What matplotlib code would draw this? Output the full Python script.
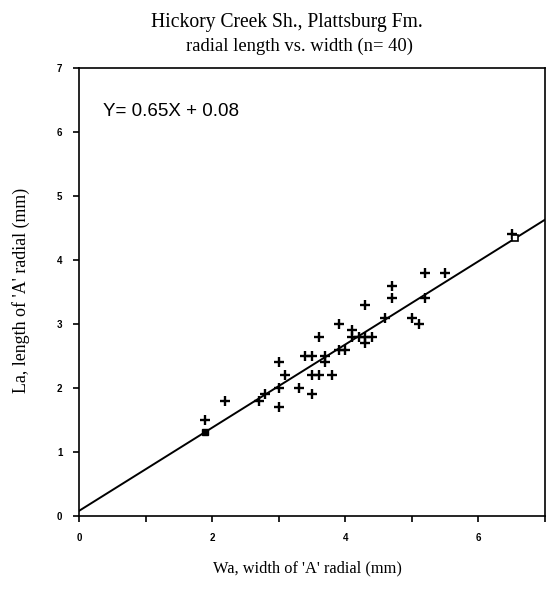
import matplotlib.pyplot as plt
import numpy as np

# radial width (Wa) and length (La), mm
width = [1.9, 2.2, 2.7, 2.8, 3.0, 3.0, 3.0, 3.1, 3.3, 3.4,
         3.5, 3.5, 3.5, 3.6, 3.6, 3.7, 3.7, 3.8, 3.9, 3.9,
         4.0, 4.1, 4.1, 4.2, 4.3, 4.3, 4.3, 4.4, 4.6, 4.7,
         4.7, 5.0, 5.1, 5.2, 5.2, 5.5, 6.5]
length = [1.5, 1.8, 1.8, 1.9, 2.4, 2.0, 1.7, 2.2, 2.0, 2.5,
          2.5, 2.2, 1.9, 2.2, 2.8, 2.5, 2.4, 2.2, 3.0, 2.6,
          2.6, 2.9, 2.8, 2.8, 3.3, 2.8, 2.7, 2.8, 3.1, 3.6,
          3.4, 3.1, 3.0, 3.8, 3.4, 3.8, 4.4]

# regression line
slope = 0.65
intercept = 0.08
end_x = [1.9, 6.55]

serif = ['Liberation Serif', 'DejaVu Serif']
sans = ['Liberation Sans', 'DejaVu Sans']

W, H = 548, 590
fig = plt.figure(figsize=(W / 100, H / 100), dpi=100)
ax = fig.add_axes([79 / W, 1 - 516 / H, 466 / W, 448 / H])

xs = np.array([0, 7])
ax.plot(xs, slope * xs + intercept, color='black', lw=1.4)
ax.plot(width, length, '+', color='black', ms=6.5, mew=1.7)

# end markers on the fitted line
ey = [slope * x + intercept for x in end_x]
ax.plot(end_x[0], ey[0], 's', color='black', ms=5)
ax.plot(end_x[1], ey[1], 's', mfc='white', mec='black', ms=5, mew=1.2)

ax.set_xlim(0, 7)
ax.set_ylim(0, 7)
ax.set_xticks(range(0, 8))
ax.set_xticklabels(['0', '', '2', '', '4', '', '6', ''])
ax.set_yticks(range(0, 8))
ax.tick_params(direction='out', length=4, width=1.2, labelsize=7, pad=8)
for lab in ax.get_xticklabels() + ax.get_yticklabels():
    lab.set_fontweight('bold')
    lab.set_family(sans)
for s in ax.spines.values():
    s.set_linewidth(1.2)

# texts: (string, x px, y px, wanted length px, family, rotation)
texts = [
    ('Hickory Creek Sh., Plattsburg Fm.', 287, 22, 272, serif, 0),
    ('radial length vs. width (n= 40)', 299, 46, 226, serif, 0),
    ("Wa, width of 'A' radial (mm)", 307, 568, 188, serif, 0),
    ("La, length of 'A' radial (mm)", 21, 290, 205, serif, 90),
    ('Y= 0.65X + 0.08', 171, 111, 135, sans, 0),
]
r = fig.canvas.get_renderer()
for s, px, py, want, fam, rot in texts:
    t = fig.text(px / W, 1 - py / H, s, family=fam, fontsize=12,
                 ha='center', va='center', rotation=rot)
    bb = t.get_window_extent(r)
    got = bb.height if rot else bb.width
    t.set_fontsize(12 * want / got)

fig.savefig('out.png', dpi=100)
